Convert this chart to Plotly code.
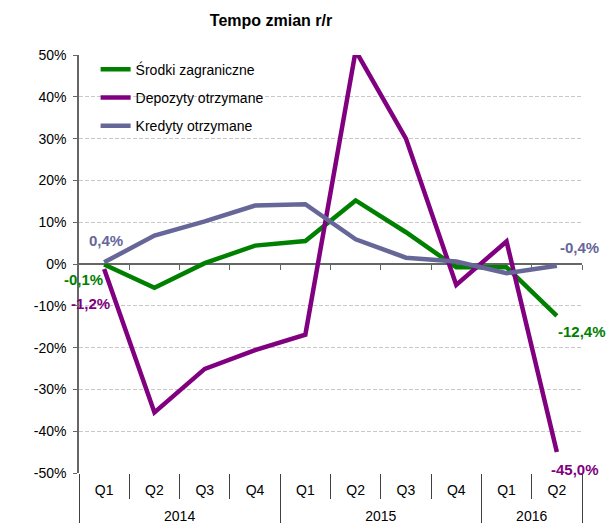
import plotly.graph_objects as go

years = ["2014"] * 4 + ["2015"] * 4 + ["2016"] * 2
quarters = ["Q1", "Q2", "Q3", "Q4", "Q1", "Q2", "Q3", "Q4", "Q1", "Q2"]

srodki = [-0.1, -5.7, 0.2, 4.4, 5.5, 15.2, 7.6, -0.8, -0.8, -12.4]
depozyty = [-1.2, -35.5, -25.1, -20.6, -16.9, 51.0, 30.0, -5.0, 5.4, -45.0]
kredyty = [0.4, 6.8, 10.2, 14.0, 14.3, 5.9, 1.5, 0.6, -2.2, -0.4]

series_names = ["Środki zagraniczne", "Depozyty otrzymane", "Kredyty otrzymane"]
colors = ["#008000", "#800080", "#666699"]

y_tickvals = [50, 40, 30, 20, 10, 0, -10, -20, -30, -40, -50]
y_ticktext = ["50%", "40%", "30%", "20%", "10%", "0%", "-10%", "-20%", "-30%", "-40%", "-50%"]

FONT = "Liberation Sans, Arial, sans-serif"


def fmt(v):
    return f"{v:.1f}".replace(".", ",") + "%"


n = len(quarters)
pos = list(range(n))

# year groups derived from the category arrays
year_names, year_centers, year_bounds = [], [], [-0.5]
for i, yv in enumerate(years):
    if not year_names or year_names[-1] != yv:
        year_names.append(yv)
        members = [k for k, z in enumerate(years) if z == yv]
        year_centers.append(sum(members) / len(members))
        year_bounds.append(members[-1] + 0.5)

fig = go.Figure()
for i, (name, vals) in enumerate(zip(series_names, [srodki, depozyty, kredyty])):
    fig.add_trace(go.Scatter(
        x=pos, y=vals, name=name, mode="lines",
        line=dict(color=colors[i], width=4.5),
        legendgroup=name, hoverinfo="y",
    ))

# invisible helper traces so the extra axes are drawn
for ax in ["x2", "x3"]:
    fig.add_trace(go.Scatter(x=pos, y=[0] * n, xaxis=ax, mode="lines",
                             line=dict(width=0), showlegend=False, hoverinfo="skip"))

# data labels (first and last points)
last = n - 1
label_specs = [
    (kredyty, 0, 2, 22, colors[2]),
    (srodki, 0, -21, -15, colors[0]),
    (depozyty, 0, -14, -34, colors[1]),
    (kredyty, last, 23, 18, colors[2]),
    (srodki, last, 25, -16, colors[0]),
    (depozyty, last, 18, -17, colors[1]),
]
for vals, i, xs, ys, c in label_specs:
    fig.add_annotation(x=pos[i], y=vals[i], xref="x", yref="y", text=fmt(vals[i]),
                       showarrow=False, xshift=xs, yshift=ys,
                       font=dict(family=FONT, size=15, color=c, weight="bold"))

fig.update_layout(
    width=611, height=523,
    margin=dict(l=79, r=29, t=55, b=50, autoexpand=False),
    paper_bgcolor="white", plot_bgcolor="white",
    font=dict(family=FONT, size=14, color="#000000"),
    title=dict(text="<b>Tempo zmian r/r</b>", x=271 / 611, xanchor="center",
               y=1 - 20 / 523, yanchor="middle", font=dict(size=16, color="#000000")),
    showlegend=True,
    legend=dict(x=0.033, y=1.003, xanchor="left", yanchor="top",
                bgcolor="rgba(0,0,0,0)", font=dict(size=14),
                traceorder="grouped", tracegroupgap=7),
    xaxis=dict(
        range=[-0.5, n - 0.5], tickvals=pos, ticktext=quarters, automargin=False,
        showline=False, showgrid=False, zeroline=False,
        ticks="outside", ticklen=0, ticklabelstandoff=4,
        minor=dict(tickvals=[k + 0.5 for k in range(n - 1)], ticks="outside",
                   ticklen=25, tickcolor="#404040", tickwidth=1, showgrid=False),
        tickfont=dict(size=14, color="#000000"),
    ),
    xaxis2=dict(
        overlaying="x", anchor="free", position=0.5, range=[-0.5, n - 0.5],
        showline=True, linecolor="#666666", linewidth=2, automargin=False,
        ticks="outside", ticklen=5, tickcolor="#666666", tickwidth=1,
        tickvals=[k + 0.5 for k in range(n)], showticklabels=False,
        showgrid=False, zeroline=False, layer="below traces",
    ),
    xaxis3=dict(
        overlaying="x", anchor="y", side="bottom", range=[-0.5, n - 0.5],
        tickvals=year_centers, ticktext=year_names, automargin=False,
        showline=False, showgrid=False, zeroline=False,
        ticks="outside", ticklen=0, ticklabelstandoff=30,
        minor=dict(tickvals=year_bounds, ticks="outside", ticklen=50,
                   tickcolor="#404040", tickwidth=1, showgrid=False),
        tickfont=dict(size=14, color="#000000"),
    ),
    yaxis=dict(
        range=[-50, 50], tickvals=y_tickvals, ticktext=y_ticktext, automargin=False,
        showline=True, linecolor="#666666", linewidth=1.5,
        ticks="outside", ticklen=4, tickcolor="#666666", ticklabelstandoff=4,
        showgrid=True, gridcolor="#C8C8C8", gridwidth=1, griddash="4px,2px",
        zeroline=False, tickfont=dict(size=14, color="#000000"),
    ),
)

fig.write_html("out.html", config={"displayModeBar": False},
               post_script="document.body.style.margin='0px';")
